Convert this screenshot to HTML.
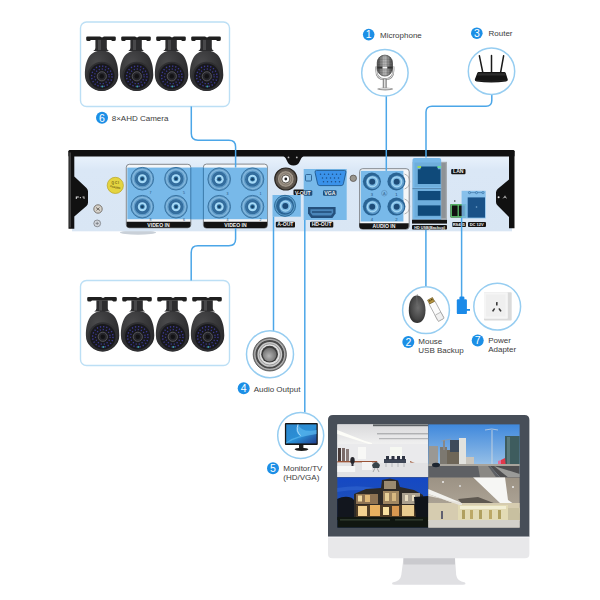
<!DOCTYPE html>
<html><head><meta charset="utf-8">
<style>
html,body{margin:0;padding:0;background:#fff;}
body{width:600px;height:600px;overflow:hidden;font-family:"Liberation Sans",sans-serif;}
svg{display:block;}
.t{font-family:"Liberation Sans",sans-serif;fill:#3c3c3c;font-size:8px;}
.bn{font-family:"Liberation Sans",sans-serif;fill:#fff;font-size:10.5px;text-anchor:middle;}
.lb{font-family:"Liberation Sans",sans-serif;fill:#f2f2f2;font-size:5.1px;font-weight:bold;text-anchor:middle;}
</style></head>
<body>
<svg width="600" height="600" viewBox="0 0 600 600">
<defs>
  <radialGradient id="camBody" cx="0.35" cy="0.3" r="0.8">
    <stop offset="0" stop-color="#4a4a4c"/><stop offset="1" stop-color="#262628"/>
  </radialGradient>
  <g id="cam">
    <path d="M-16.1,38.4 C-16.1,23.5 -11,14 0.6,14 C12.2,14 17.3,23.5 17.3,38.4 A16.7,16 0 0 1 -16.1,38.4 Z" fill="url(#camBody)"/>
    <path d="M-14.8,1 Q-14.8,0 -13.5,0 H-1 L1,1.1 L3,0 H13.5 Q14.8,0 14.8,1 V3 Q14.8,4.6 13,4.6 Q11,4.6 10,3.4 H-10 Q-11,4.6 -13,4.6 Q-14.8,4.6 -14.8,3Z" fill="#1f1f1f"/>
    <path d="M-5.6,3.3 H5.8 V11.6 Q5.8,13.6 8,14.6 H-7.8 Q-5.6,13.6 -5.6,11.6Z" fill="#2c2c2e"/>
    <rect x="-3" y="3.4" width="3" height="10.2" fill="#48484a"/>
    <circle cx="0.8" cy="39.8" r="14.6" fill="#2f2f32"/>
    <circle cx="0.8" cy="39.8" r="12.7" fill="#18181c"/>
    <circle cx="0.8" cy="39.8" r="10.2" fill="none" stroke="#3c3a92" stroke-width="1.4" stroke-dasharray="1.3 1.9"/>
    <circle cx="0.8" cy="39.8" r="7.3" fill="none" stroke="#3c3a92" stroke-width="1.3" stroke-dasharray="1.2 1.9"/>
    <circle cx="0.8" cy="39.8" r="4.6" fill="#26262b" stroke="#5a5a60" stroke-width="0.9"/>
    <circle cx="0.8" cy="39.8" r="2.2" fill="#121215"/>
    <circle cx="1.4" cy="50" r="1" fill="#3aa0a0"/>
  </g>
  <g id="bnc">
    <circle r="11.3" fill="#5f9bc8" stroke="#3a74a2" stroke-width="1"/>
    <circle r="9.4" fill="none" stroke="#85b8de" stroke-width="1.3"/>
    <circle r="7.4" fill="#30699a"/>
    <circle r="6.2" fill="none" stroke="#3d77a6" stroke-width="0.6"/>
    <circle r="4.5" fill="#a6daf7"/>
    <circle r="2.4" fill="#2c6c9c"/>
    <circle r="1.3" fill="#163e60"/>
  </g>
  <g id="rca">
    <circle r="9" fill="#2a6494"/>
    <circle cx="0.9" cy="0.7" r="6.8" fill="#5e9ccc"/>
    <circle cx="0.4" cy="0.3" r="5.6" fill="#a6d8f5"/>
    <circle cx="0.4" cy="0.3" r="4.4" fill="#7ab8e2"/>
    <circle cx="0.3" cy="0.2" r="3" fill="#1e4c78"/>
  </g>
</defs>

<!-- ============ camera boxes ============ -->
<rect x="80.5" y="22" width="149" height="84.5" rx="6" fill="none" stroke="#bcdff5" stroke-width="1.4"/>
<rect x="80.5" y="280.5" width="149" height="85" rx="6" fill="none" stroke="#bcdff5" stroke-width="1.4"/>

<g transform="translate(101,36.5)"><use href="#cam"/></g>
<g transform="translate(136,36.5)"><use href="#cam"/></g>
<g transform="translate(171,36.5)"><use href="#cam"/></g>
<g transform="translate(206,36.5)"><use href="#cam"/></g>
<g transform="translate(102,297)"><use href="#cam"/></g>
<g transform="translate(137,297)"><use href="#cam"/></g>
<g transform="translate(172,297)"><use href="#cam"/></g>
<g transform="translate(207,297)"><use href="#cam"/></g>

<!-- ============ DVR ============ -->
<g id="dvr">
  <ellipse cx="138" cy="232.5" rx="18" ry="2.2" fill="#c9d0d8"/>
    <defs><linearGradient id="pnl" x1="0" y1="0" x2="0" y2="1"><stop offset="0" stop-color="#eaf3fc"/><stop offset="0.2" stop-color="#dae7f6"/><stop offset="1" stop-color="#d9e6f4"/></linearGradient></defs>
  <rect x="72" y="155" width="440" height="76.3" fill="url(#pnl)"/>
  <!-- top black band -->
  <rect x="68.5" y="150.1" width="446" height="6.5" rx="1.2" fill="#111"/>
  
  <!-- notch -->
  <path d="M283.5,156 Q286,157.5 287.3,161.5 Q288.8,165.6 293.5,165.6 Q298.2,165.6 299.7,161.5 Q301,157.5 303.5,156 Z" fill="#111"/>
  <circle cx="288.5" cy="157.4" r="0.9" fill="#bbb"/><circle cx="296.8" cy="157.4" r="0.9" fill="#bbb"/>
  <!-- left side -->
  <path d="M68.5,151 H74.3 V176.5 L86.5,188 Q88,189.5 88,191.5 V202.5 Q88,204.5 86.5,206 L74.3,216.5 V228.7 H68.5 Z" fill="#111"/>
  <rect x="69.4" y="152.5" width="1.4" height="75" fill="#4a4a4a"/>
  <!-- right side -->
  <path d="M514.5,151 H509 V179.5 L497.6,189 Q496,190.5 496,192.5 V202 Q496,204 497.6,205.5 L509,217 V228.2 H514.5 Z" fill="#111"/>
  <path d="M75.8,196.5 h3 v1 h-2 v1.4 h-1z" fill="#e0e0e0"/><rect x="79.8" y="197" width="1.2" height="1.2" fill="#bbb"/><path d="M82.5,196.5 h2 v2.4 h-0.9 v-1.4 h-1.1z" fill="#ccc"/>
  <circle cx="498.6" cy="197.3" r="1" fill="#e8e8e8"/><path d="M503,198.5 L505,195.8 L506.5,198.5 M504,197.5 h2" stroke="#bbb" stroke-width="0.7" fill="none"/>
  <!-- QC sticker -->
  <circle cx="115.3" cy="185.4" r="8.1" fill="#e4d440" stroke="#b8a422" stroke-width="0.7"/>
  <text x="115.3" y="184.3" style="font-family:'Liberation Sans',sans-serif;font-size:3.2px;font-weight:bold;fill:#6a5a10;text-anchor:middle">Q C I</text>
  <text x="115.3" y="188.2" style="font-family:'Liberation Sans',sans-serif;font-size:2.6px;font-weight:bold;fill:#6a5a10;text-anchor:middle" transform="rotate(12 115.3 187)">PASSED</text>
  <!-- screws -->
  <circle cx="98" cy="209" r="4.2" fill="#d6d2ca" stroke="#6e6a64" stroke-width="0.9"/>
  <path d="M96,207.5 L100,210.5 M96.5,210.5 L99.5,207.5" stroke="#5a5650" stroke-width="0.8"/>
  <circle cx="97.2" cy="223.4" r="3.4" fill="#d2d6dc" stroke="#7a7e84" stroke-width="0.8"/>
  <path d="M95.6,223.4 H98.8 M97.2,221.8 V225" stroke="#6a6e74" stroke-width="0.7"/>
  <circle cx="353.3" cy="178.3" r="3.2" fill="#9a968e" stroke="#5a5650" stroke-width="0.8"/>

  <!-- video in panels -->
  <rect x="126.3" y="164.3" width="64.5" height="63.5" rx="3" fill="#f4f6f8" stroke="#6a6e74" stroke-width="0.8"/>
  <rect x="203.4" y="164.1" width="64.1" height="64" rx="3" fill="#f4f6f8" stroke="#6a6e74" stroke-width="0.8"/>
  <!-- blue highlight spanning both -->
  <rect x="127.3" y="167.6" width="140" height="51.6" fill="#78b9e9"/>
  <rect x="190.8" y="167.6" width="12.6" height="51.6" fill="#6cb2e6"/>
  <path d="M190.8,167.6V219.2 M203.4,167.6V219.2" stroke="#2d6b9a" stroke-width="0.8"/>
  <path d="M126.6,221.7 H190.5 V225 Q190.5,227.8 187.5,227.8 H129.5 Q126.6,227.8 126.6,225Z" fill="#141414"/>
  <path d="M203.7,221.7 H267.2 V225 Q267.2,228 264.2,228 H206.7 Q203.7,228 203.7,225Z" fill="#141414"/>
  <text class="lb" x="158.5" y="226.9">VIDEO IN</text>
  <text class="lb" x="235.5" y="227">VIDEO IN</text>
  <use href="#bnc" x="142.3" y="178.7"/>
  <use href="#bnc" x="176" y="178.7"/>
  <use href="#bnc" x="142.3" y="206.7"/>
  <use href="#bnc" x="176" y="206.7"/>
  <use href="#bnc" x="219.2" y="179.2"/>
  <use href="#bnc" x="252.5" y="179.2"/>
  <use href="#bnc" x="219.2" y="206.7"/>
  <use href="#bnc" x="252.5" y="206.7"/>

  <g style="font-family:'Liberation Sans',sans-serif;font-size:3.6px;fill:#24507a;text-anchor:middle">
    <text x="150.5" y="194.2">7</text><text x="184" y="194.2">5</text><text x="150.5" y="221.3">8</text><text x="184" y="221.3">6</text>
    <text x="227.5" y="194.5">3</text><text x="260.5" y="194.5">1</text><text x="227.5" y="221.3">4</text><text x="260.5" y="221.3">2</text>
  </g>
  <!-- V-OUT BNC -->
  <circle cx="285.8" cy="179" r="11" fill="#5e564e" stroke="#2a2622" stroke-width="1.2"/>
  <circle cx="285.8" cy="179" r="8.4" fill="#a0968a" stroke="#5a524a" stroke-width="1"/>
  <circle cx="285.8" cy="179" r="6" fill="none" stroke="#7a7064" stroke-width="0.8"/>
  <circle cx="285.8" cy="179" r="4" fill="#fff" stroke="#3a3630" stroke-width="0.8"/>
  <circle cx="285.8" cy="179" r="1.4" fill="#222"/>
  <rect x="293.5" y="189.6" width="12" height="5.4" rx="1" fill="#141414"/>
  
  <!-- A-OUT -->
  <rect x="272.5" y="195" width="28.3" height="21.7" fill="#78b9e9"/>
  <circle cx="285" cy="205.8" r="10.5" fill="#5f9fcc" stroke="#2c6a98" stroke-width="1"/>
  <use href="#rca" x="285" y="205.8"/>
  <rect x="275.8" y="221.7" width="19.2" height="5.8" rx="1" fill="#141414"/>
  <text class="lb" x="285.4" y="226.4">A-OUT</text>
  <!-- HD / VGA -->
  <rect x="303.7" y="169" width="43" height="51" fill="#78b9e9"/>
  <path d="M316.5,170.4 H344.5 Q346.3,170.4 345.9,172.4 L343.4,183.8 Q343,185.6 341.2,185.6 H319.8 Q318,185.6 317.6,183.8 L315.1,172.4 Q314.7,170.4 316.5,170.4Z" fill="#3a92ea" stroke="#245e96" stroke-width="1"/>
  <circle cx="320.5" cy="174.2" r="0.75" fill="#1f4f86"/><circle cx="324.5" cy="174.2" r="0.75" fill="#1f4f86"/><circle cx="328.5" cy="174.2" r="0.75" fill="#1f4f86"/><circle cx="332.5" cy="174.2" r="0.75" fill="#1f4f86"/><circle cx="336.5" cy="174.2" r="0.75" fill="#1f4f86"/><circle cx="340.5" cy="174.2" r="0.75" fill="#1f4f86"/><circle cx="322.5" cy="178" r="0.75" fill="#1f4f86"/><circle cx="326.5" cy="178" r="0.75" fill="#1f4f86"/><circle cx="330.5" cy="178" r="0.75" fill="#1f4f86"/><circle cx="334.5" cy="178" r="0.75" fill="#1f4f86"/><circle cx="338.5" cy="178" r="0.75" fill="#1f4f86"/><circle cx="323.5" cy="181.8" r="0.75" fill="#1f4f86"/><circle cx="327.5" cy="181.8" r="0.75" fill="#1f4f86"/><circle cx="331.5" cy="181.8" r="0.75" fill="#1f4f86"/><circle cx="335.5" cy="181.8" r="0.75" fill="#1f4f86"/><circle cx="339.5" cy="181.8" r="0.75" fill="#1f4f86"/>
  <rect x="305.5" y="174.5" width="6" height="6.5" rx="1" fill="none" stroke="#2a5f90" stroke-width="0.9"/>
  <rect x="303.7" y="190.3" width="8.6" height="5.4" rx="1" fill="#1e4e7a"/>
  <text class="lb" x="302.8" y="194.5">V-OUT</text>
  <rect x="323" y="190.3" width="13.6" height="5.4" rx="1.2" fill="#1e4e7a"/>
  <text class="lb" x="329.8" y="194.6">VGA</text>
  <path d="M308,207.1 H335.6 V213.6 L332.4,217.9 H311.2 L308,213.6 Z" fill="#24507c"/>
  <path d="M310.4,209.3 H333.2 V212.8 L331,215.4 H312.6 L310.4,212.8 Z" fill="#4a86ba"/>
  <rect x="312" y="211.2" width="19.6" height="1.6" fill="#24507c"/>
  <rect x="310" y="221.7" width="23.3" height="5.8" rx="1" fill="#141414"/>
  <text class="lb" x="321.6" y="226.4">HD-OUT</text>

  <!-- AUDIO IN -->
  <rect x="359.6" y="168.7" width="49.6" height="60.6" rx="3" fill="#f4f6f8" stroke="#6a6e74" stroke-width="0.8"/>
  <rect x="360.7" y="170.8" width="42.7" height="50.7" fill="#78b9e9"/>
  <path d="M359.3,223.3 H408.7 V226 Q408.7,229 405.7,229 H362.3 Q359.3,229 359.3,226Z" fill="#141414"/>
  <text class="lb" x="384" y="228">AUDIO IN</text>
  <path d="M404.5,174 A8,8 0 0 1 404.5,189 M404.5,199 A8,8 0 0 1 404.5,214" fill="none" stroke="#9a9a9a" stroke-width="0.8"/>
  <use href="#rca" x="371.9" y="181.5"/>
  <use href="#rca" x="396.4" y="181.5"/>
  <use href="#rca" x="371.9" y="206.6"/>
  <use href="#rca" x="396.4" y="206.6"/>
  <g style="font-family:'Liberation Sans',sans-serif;font-size:4.2px;fill:#1e4c78;text-anchor:middle">
    <text x="371.9" y="195.5">3</text><text x="396.4" y="195.5">1</text>
    <text x="371.9" y="221">4</text><text x="396.4" y="221">2</text>
  </g>
  <circle cx="384.3" cy="193.2" r="2.8" fill="none" stroke="#5a8ab4" stroke-width="0.6"/>
  <text x="384.3" y="194.7" style="font-family:'Liberation Sans',sans-serif;font-size:4px;fill:#3a6a94;text-anchor:middle">A</text>

  <!-- LAN / USB -->
  <rect x="412.5" y="161.8" width="34.5" height="57.4" fill="#a6aaae"/>
  <rect x="441.2" y="163" width="4.5" height="55" fill="#8e9296"/>
  <path d="M412.5,160 Q412.5,157.9 414.5,157.9 H439.2 Q441.2,157.9 441.2,160 V219.7 H412.5Z" fill="#78b9e9"/>
  <rect x="414.5" y="162.5" width="26.5" height="24.5" fill="#6eaedc"/>
  <path d="M420.5,166.4 H437.8 V169.2 H440.5 V183.9 H417.8 V169.2 H420.5Z" fill="#0f4a7a"/>
  <rect x="417.5" y="166" width="3.6" height="2" fill="#9ad85a"/>
  <rect x="437.4" y="166" width="3.6" height="2" fill="#6ad8a0"/>
  <rect x="412.5" y="188" width="28.7" height="1.2" fill="#5a8cb4"/>
  <rect x="414.5" y="189.5" width="26.5" height="28" fill="#6eaedc"/>
  <rect x="417.8" y="191" width="22.7" height="9.2" fill="#0f4a7a"/>
  <rect x="417.8" y="205.4" width="22.7" height="10.4" fill="#0f4a7a"/>
  <rect x="412" y="219.7" width="35" height="3.9" fill="#141414"/>
  <rect x="412" y="224.9" width="35" height="4.6" rx="1" fill="#141414"/>
  <text class="lb" x="429.6" y="228.6" style="font-size:3.8px">HD USB(Backup)</text>
  <rect x="451.2" y="169" width="14.3" height="5.2" rx="1" fill="#141414"/>
  <text class="lb" x="458.3" y="173.3">LAN</text>

  <!-- RS485 / DC12V -->
  <rect x="450.4" y="204" width="15.8" height="13.6" rx="0.8" fill="#111"/>
  <rect x="451.2" y="204.8" width="14.2" height="12" fill="none" stroke="#62cc74" stroke-width="1.3"/>
  <rect x="457.6" y="205" width="1.2" height="11.6" fill="#62cc74"/>
  <circle cx="454.8" cy="201" r="0.7" fill="#222"/>
  <rect x="461.6" y="190.8" width="24.1" height="27.6" fill="#78b9e9" opacity="0.85"/>
  <rect x="467.7" y="197.4" width="17.3" height="20.2" fill="#1a5288"/>
  <circle cx="476.5" cy="207" r="0.8" fill="#7aa8d0"/>
  <path d="M468.5,192.6 H484" stroke="#2a5f90" stroke-width="0.5"/>
  <circle cx="469.5" cy="192.6" r="1.1" fill="#78b9e9" stroke="#2a5f90" stroke-width="0.5"/>
  <circle cx="476.5" cy="192.6" r="1.1" fill="#78b9e9" stroke="#2a5f90" stroke-width="0.5"/>
  <circle cx="483" cy="192.6" r="1.1" fill="#78b9e9" stroke="#2a5f90" stroke-width="0.5"/>
  <rect x="452.2" y="222" width="13.8" height="4.9" rx="1" fill="#141414"/>
  <text class="lb" x="458.8" y="226.3" style="font-size:4px">RS485</text>
  <rect x="468" y="222" width="18" height="4.9" rx="1" fill="#141414"/>
  <text class="lb" x="476.7" y="226.3" style="font-size:4px">DC 12V</text>
</g>

<!-- ============ connection lines ============ -->
<g fill="none" stroke="#4ba6e8" stroke-width="1.5">
  <path d="M191.3,106.5 V133.5 Q191.3,140.2 198,140.2 H228.9 Q235.6,140.2 235.6,146.9 V167.6"/>
  <path d="M235.6,228 V239 Q235.6,245.7 228.9,245.7 H197.9 Q191.2,245.7 191.2,252.4 V280.5"/>
  <path d="M273.5,216.7 V331"/>
  <path d="M304.8,220 V412.5"/>
  <path d="M386.3,96 V170.8"/>
  <path d="M491.8,94.2 V100.5 Q491.8,106.2 486,106.2 H432 Q426,106.2 426,112 V157.5"/>
  <path d="M425.9,229.7 V287"/>
  <path d="M461.6,217.7 V298"/>
</g>
<!-- ============ icon circles ============ -->
<g fill="#fff" stroke="#96cdf1" stroke-width="1.5">
  <circle cx="384.9" cy="72.8" r="23.2"/>
  <circle cx="491.5" cy="71.2" r="23.2"/>
  <circle cx="426" cy="310.2" r="23.4"/>
  <circle cx="497.2" cy="306.6" r="23.4"/>
  <circle cx="270" cy="354.2" r="23.5"/>
  <circle cx="300.7" cy="435.5" r="23"/>
</g>

<!-- microphone -->
<defs>
  <linearGradient id="micG" x1="0" y1="0" x2="1" y2="0"><stop offset="0" stop-color="#4e4e4e"/><stop offset="0.5" stop-color="#cdcdcd"/><stop offset="1" stop-color="#4e4e4e"/></linearGradient>
  <linearGradient id="stemG" x1="0" y1="0" x2="1" y2="0"><stop offset="0" stop-color="#777"/><stop offset="0.5" stop-color="#eee"/><stop offset="1" stop-color="#777"/></linearGradient>
  <pattern id="mesh" width="1.6" height="1.6" patternUnits="userSpaceOnUse"><rect width="1.6" height="1.6" fill="none"/><rect width="0.6" height="1.6" fill="#000" opacity="0.18"/><rect width="1.6" height="0.6" fill="#000" opacity="0.18"/></pattern>
</defs>
<g>
  <path d="M376.3,66.5 V70 Q376.3,79.3 384.8,79.3 Q393.4,79.3 393.4,70 V66.5" fill="none" stroke="#8a8a8a" stroke-width="2"/>
  <path d="M376.3,66.5 V70 Q376.3,79.3 384.8,79.3 Q393.4,79.3 393.4,70 V66.5" fill="none" stroke="#e6e6e6" stroke-width="0.9"/>
  <rect x="377.2" y="55.1" width="15.3" height="21" rx="7.6" fill="url(#micG)"/>
  <rect x="377.2" y="55.1" width="15.3" height="21" rx="7.6" fill="url(#mesh)" stroke="#333" stroke-width="0.6"/>
  <rect x="377.3" y="66.6" width="15.1" height="2" fill="#333"/>
  <rect x="382.5" y="66.6" width="4.8" height="2" fill="#f4f4f4"/>
  <rect x="383" y="79" width="3.4" height="9.6" fill="url(#stemG)" stroke="#666" stroke-width="0.4"/>
  <ellipse cx="385.2" cy="89" rx="8" ry="1.4" fill="#9a9a9a"/>
  <ellipse cx="385.2" cy="88.6" rx="6" ry="0.7" fill="#d6d6d6"/>
</g>
<!-- router -->
<g>
  <path d="M479.4,55.8 L482.8,72.5 M491.5,55.5 V72.5 M503.6,55.8 L500.6,72.5" stroke="#1a1a1a" stroke-width="1.5" stroke-linecap="round"/>
  <path d="M478.5,72 H504.5 Q505.3,72 505.7,73 L507.8,79.6 Q508.1,81.2 506,81.4 Q491.3,83.6 476.6,81.4 Q474.5,81.2 474.8,79.6 L477.3,73 Q477.7,72 478.5,72Z" fill="#141414"/>
  <path d="M478,73.2 H505 L505.7,75.4 H477.2Z" fill="#2c2c2c"/>
  <path d="M476,80.3 Q491.3,82.2 506.6,80.3" stroke="#2e2e2e" stroke-width="0.6" fill="none"/>
</g>
<!-- mouse & usb -->
<defs>
  <radialGradient id="mouseG" cx="0.55" cy="0.45" r="0.6"><stop offset="0" stop-color="#6e6e6e"/><stop offset="0.7" stop-color="#464646"/><stop offset="1" stop-color="#2a2a2a"/></radialGradient>
</defs>
<g>
  <path d="M417.3,294 V296" stroke="#888" stroke-width="0.6"/>
  <path d="M416.8,295.4 C421.8,295.4 425.5,301.5 425.5,310.2 C425.5,318.6 421.6,322.9 417.2,322.9 C412.6,322.9 408.8,318.6 408.8,310.2 C408.8,301.5 411.8,295.4 416.8,295.4Z" fill="url(#mouseG)"/>
  <path d="M416.6,296 Q417.2,301 417,305" stroke="#777" stroke-width="0.5" fill="none"/>
  <g transform="rotate(-28 436.5 311)">
    <rect x="433.2" y="301" width="6.6" height="20" rx="1" fill="#fbfbfb" stroke="#8a8a8a" stroke-width="0.6"/>
    <rect x="433.2" y="314" width="6.6" height="7" rx="1" fill="#f0f0f0" stroke="#8a8a8a" stroke-width="0.5"/>
    <rect x="433.7" y="297.2" width="5.6" height="4.4" fill="#b89640" stroke="#5a4818" stroke-width="0.5"/>
    <rect x="434.8" y="298.2" width="1.3" height="1.3" fill="#3a2e10"/><rect x="437" y="298.2" width="1.3" height="1.3" fill="#3a2e10"/>
  </g>
</g>
<!-- power -->
<g>
  <rect x="484" y="292.3" width="27.7" height="28.2" rx="0.8" fill="#dadada"/>
  <rect x="484" y="292.3" width="23.8" height="26.4" rx="0.6" fill="#f5f5f5"/>
  <rect x="486" y="294.5" width="19.5" height="22" fill="#efefef"/>
  <rect x="496" y="302" width="1.6" height="3.4" rx="0.5" fill="#3a3a3a"/>
  <rect x="492.8" y="308.1" width="1.6" height="3.6" rx="0.5" fill="#3a3a3a" transform="rotate(35 493.6 309.9)"/>
  <rect x="499.2" y="308.1" width="1.6" height="3.6" rx="0.5" fill="#3a3a3a" transform="rotate(-35 500 309.9)"/>
  <rect x="456.8" y="299.2" width="10.1" height="14.9" rx="1.2" fill="#1b8ae8"/>
  <rect x="459.4" y="296.6" width="5" height="3.4" rx="1.2" fill="#1b8ae8"/>
  <rect x="466" y="309" width="4" height="1.8" fill="#1b8ae8"/>
</g>
<!-- audio jack -->
<defs>
  <radialGradient id="jk1" cx="0.5" cy="0.5" r="0.5"><stop offset="0.6" stop-color="#8c8c8c"/><stop offset="0.85" stop-color="#d4d4d4"/><stop offset="1" stop-color="#6a6a6a"/></radialGradient>
  <radialGradient id="jk2" cx="0.45" cy="0.6" r="0.6"><stop offset="0" stop-color="#b4b4b4"/><stop offset="1" stop-color="#6a6a6a"/></radialGradient>
</defs>
<g>
  <circle cx="269.8" cy="354.4" r="16.6" fill="url(#jk1)" stroke="#4e4e4e" stroke-width="0.8"/>
  <circle cx="269.8" cy="354.4" r="13.4" fill="#c8c8c8" stroke="#4a4a4a" stroke-width="2"/>
  <circle cx="269.8" cy="354.4" r="10.6" fill="#e0e0e0" stroke="#8a8a8a" stroke-width="0.8"/>
  <circle cx="269.6" cy="354.2" r="8.4" fill="#3c3c3c"/>
  <circle cx="269.6" cy="354.6" r="6.8" fill="url(#jk2)"/>
</g>
<!-- small monitor icon -->
<defs>
  <linearGradient id="smScr" x1="0" y1="0" x2="1" y2="1"><stop offset="0" stop-color="#2a86cc"/><stop offset="0.55" stop-color="#2b8fd6"/><stop offset="1" stop-color="#1f3f8e"/></linearGradient>
</defs>
<g>
  <rect x="284.9" y="422.9" width="32.9" height="22.1" rx="1" fill="#161616"/>
  <rect x="286.2" y="424.4" width="30.3" height="19" fill="url(#smScr)"/>
  <path d="M298,424.4 Q294,432 300,436 Q292,438 286.2,442.5 V443.4 Q296,437 316.5,434 V430 Q302,433 298,424.4Z" fill="#58b6ee" opacity="0.75"/>
  <path d="M298,424.4 Q295.5,431 300.5,435.5" stroke="#cfeaff" stroke-width="0.8" fill="none"/>
  <rect x="299" y="445" width="4.4" height="3" fill="#222"/>
  <ellipse cx="301.5" cy="449.3" rx="6.9" ry="1.6" fill="#1a1a1a"/>
</g>

<!-- ============ big monitor ============ -->
<g>
  <path d="M403.5,558 H455 L456.2,575 Q457,581.2 465,582.6 Q466.5,584.8 463,584.8 H394.5 Q391,584.8 392.5,582.6 Q400.5,581.2 401.3,575 Z" fill="#e0e0e3"/>
  <rect x="403.5" y="558" width="51.5" height="6.5" fill="#cacace"/>
  
  <path d="M328,536 H529.4 V554 Q529.4,558.3 525.1,558.3 H332.3 Q328,558.3 328,554Z" fill="#e8e8ea"/>
  <path d="M333,415 H524.5 Q529.4,415 529.4,420 V536.7 H328 V420 Q328,415 333,415Z" fill="#474e58"/>
  <rect x="328" y="536.7" width="201.4" height="0.9" fill="#f6f6f8"/>
  <defs>
    <clipPath id="q1"><rect x="337.2" y="424.2" width="91" height="53"/></clipPath>
    <clipPath id="q2"><rect x="428.2" y="424.2" width="91.6" height="53"/></clipPath>
    <clipPath id="q3"><rect x="337.2" y="477.2" width="91" height="50.6"/></clipPath>
    <clipPath id="q4"><rect x="428.2" y="477.2" width="91.6" height="50.6"/></clipPath>
    <linearGradient id="sky2" x1="0" y1="0" x2="0" y2="1"><stop offset="0" stop-color="#3f88dc"/><stop offset="0.7" stop-color="#8fbbe6"/><stop offset="1" stop-color="#c4d8ec"/></linearGradient>
    <linearGradient id="sky3" x1="0" y1="0" x2="0" y2="1"><stop offset="0" stop-color="#1548c4"/><stop offset="0.5" stop-color="#1d4fb8"/><stop offset="1" stop-color="#1a2f6a"/></linearGradient>
    <linearGradient id="ceil1" x1="0" y1="0" x2="0" y2="1"><stop offset="0" stop-color="#d9d9db"/><stop offset="1" stop-color="#f0f0f0"/></linearGradient>
    <linearGradient id="ceil4" x1="0" y1="0" x2="0" y2="1"><stop offset="0" stop-color="#9c9284"/><stop offset="1" stop-color="#b8b0a2"/></linearGradient>
  </defs>
  <!-- quadrant 1 office -->
  <g clip-path="url(#q1)">
    <rect x="337.2" y="424.2" width="91" height="53" fill="#f0f0f0"/>
    <rect x="337.2" y="424.2" width="91" height="20" fill="url(#ceil1)"/>
    <path d="M337.2,430 L365,441 L372,443 L372,445 L337.2,434 Z" fill="#fdfdf8"/>
    <rect x="373" y="424.2" width="56" height="2" fill="#5c6064"/>
    <rect x="377" y="433.3" width="52" height="1" fill="#9a9c9e"/>
    <rect x="379" y="438.2" width="50" height="1" fill="#a8aaac"/>
    <rect x="337.2" y="444" width="91" height="18" fill="#eaeaec"/>
    <rect x="390" y="447" width="12" height="10" fill="#f6f8f2"/>
    <rect x="358" y="447" width="8" height="12" fill="#f8f8f6"/>
    <rect x="338" y="448" width="3" height="14" fill="#4a3c3a"/>
    <rect x="342" y="448" width="3" height="14" fill="#7a6a68"/>
    <rect x="346" y="449" width="3" height="12" fill="#8a7c7a"/>
    <rect x="337.2" y="461" width="40" height="1.6" fill="#9a5438"/>
    <path d="M410,461 L428.2,468.5 V470 L410,462.5 Z" fill="#a05a3a"/>
    <rect x="337.2" y="462.6" width="91" height="14.6" fill="#e2e2e4"/>
    <ellipse cx="352.5" cy="460.5" rx="2.2" ry="3.4" fill="#26262c"/>
    <rect x="351.5" y="463" width="2" height="6" fill="#30303a"/>
    <path d="M384,459 h22 v4 h-22z" fill="#3e4656"/>
    <rect x="386" y="456" width="3" height="4" fill="#2e3442"/><rect x="391.5" y="456" width="3" height="4" fill="#2e3442"/><rect x="397" y="456" width="3" height="4" fill="#2e3442"/><rect x="402" y="456" width="3" height="4" fill="#2e3442"/>
    <path d="M386,463 v4 M392,463 v4 M398,463 v4 M404,463 v4" stroke="#8a8e96" stroke-width="0.5"/>
    <path d="M372,465 q4,-6 8,0 l-1,3 h-6 z" fill="#38444a"/>
    <path d="M375,468 l-2,4 M377,468 l2,4" stroke="#666" stroke-width="0.5"/>
    <rect x="362" y="462" width="10" height="8" fill="#f4f4f4"/>
    <rect x="337.2" y="466" width="18" height="6" fill="#f6f6f6"/>
  </g>
  <!-- quadrant 2 street -->
  <g clip-path="url(#q2)">
    <rect x="428.2" y="424.2" width="91.6" height="53" fill="url(#sky2)"/>
    <rect x="429" y="446" width="9" height="18" fill="#9a9894"/>
    <rect x="440" y="447" width="7" height="17" fill="#7c7870"/>
    <rect x="447" y="450" width="16" height="14" fill="#6e6658"/>
    <rect x="450" y="440" width="10" height="12" fill="#3e4a5a"/>
    <rect x="459" y="438" width="7" height="26" fill="#e2e2de"/>
    <rect x="443" y="440" width="2" height="10" fill="#888"/>
    <path d="M441,441 L451,439" stroke="#999" stroke-width="0.6"/>
    <rect x="466" y="457" width="8" height="7" fill="#c8c4bc"/>
    <rect x="505" y="436" width="14.8" height="30" fill="#3e5c5e"/>
    <rect x="507" y="437" width="3" height="28" fill="#5a7a7c"/>
    <path d="M492,430 V466" stroke="#d6dade" stroke-width="0.8"/>
    <path d="M485,430 Q492,428 498,430" stroke="#d6dade" stroke-width="0.7" fill="none"/>
    <path d="M501,460 L505,458 L506,468 L501,467 Z" fill="#e0384a"/>
    <path d="M498,461 L501,460 L501,467 L498,466 Z" fill="#e070a0"/>
    <rect x="428.2" y="464" width="91.6" height="2.5" fill="#a8a49c"/>
    <path d="M428.2,466 H490 L500,477.2 H428.2 Z" fill="#5e6064"/>
    <path d="M478,466 H488 L496,477.2 H480 Z" fill="#8a8884"/>
    <path d="M490,466 H519.8 V477.2 H500 Z" fill="#4e4e50"/>
    <path d="M494,466 L519.8,474 V477.2 L508,477.2 Z" fill="#9a9a98"/>
    <ellipse cx="436" cy="465" rx="4" ry="2.2" fill="#1e2630"/>
  </g>
  <!-- quadrant 3 house -->
  <g clip-path="url(#q3)">
    <rect x="337.2" y="477.2" width="91" height="50.6" fill="url(#sky3)"/>
    <path d="M337,488 Q360,484 380,489 L380,492 Q360,488 337,492Z" fill="#3266d0" opacity="0.6"/>
    <path d="M337,499 Q345,495 352,498 L356,502 L356,520 L337,520Z" fill="#12161e"/>
    <path d="M354,494 L366,489 L381,488 L382,480 L390,478.5 L398,480.5 L400,487 L414,490 L423,495 L424,518 L354,518Z" fill="#2e2a26"/>
    <rect x="356" y="494" width="22" height="10" fill="#8e7252"/>
    <rect x="358" y="495.5" width="4" height="6" fill="#f0d8a0"/>
    <rect x="365" y="495" width="5" height="7" fill="#e0b878"/>
    <rect x="383" y="491" width="16" height="13" fill="#a08660"/>
    <rect x="385" y="493" width="4" height="8" fill="#e8d098"/><rect x="392" y="493" width="4" height="8" fill="#d8b880"/>
    <rect x="402" y="493" width="18" height="11" fill="#aaa08e"/>
    <rect x="405" y="495" width="3" height="6" fill="#e8dcc0"/><rect x="412" y="495" width="3" height="6" fill="#e8dcc0"/>
    <rect x="384" y="481" width="12" height="8" fill="#9a8a70"/>
    <rect x="356" y="505" width="66" height="12" fill="#4e3c26"/>
    <rect x="358" y="506" width="9" height="10" fill="#f2d090"/>
    <rect x="370" y="505" width="10" height="11" fill="#e8b060"/>
    <rect x="383" y="507" width="6" height="8" fill="#f8e0a0"/>
    <rect x="392" y="506" width="7" height="10" fill="#d89850"/>
    <rect x="402" y="505" width="12" height="11" fill="#e8cc90"/>
    <path d="M414,497 L428.2,496 V520 L416,520Z" fill="#10141a"/>
    <rect x="337.2" y="517" width="91" height="10.8" fill="#101610"/>
    <rect x="340" y="519.5" width="50" height="0.8" fill="#4a5a48"/>
    <rect x="395" y="519.5" width="28" height="0.8" fill="#4a5a48"/>
  </g>
  <!-- quadrant 4 mall -->
  <g clip-path="url(#q4)">
    <rect x="428.2" y="477.2" width="91.6" height="50.6" fill="url(#ceil4)"/>
    <path d="M473,477.2 H505 L508,500 L519.8,508 V514 L500,503 Z" fill="#f6f6f4"/>
    <path d="M428.2,489 L462,503 L462,506 L428.2,494 Z" fill="#f2f2ee"/>
    <path d="M458,499 L478,497 L519.8,513 V520 L500,512 L462,504 Z" fill="#5e5850"/>
    <rect x="428.2" y="503" width="91.6" height="18" fill="#d6ccb0"/>
    <path d="M428.2,494 L462,506 L462,503 L428.2,496Z" fill="#e6e2da"/>
    <rect x="458" y="505" width="50" height="15" fill="#e2dab4"/>
    <rect x="460" y="506" width="46" height="3" fill="#f2eed4"/>
    <rect x="462" y="510" width="3" height="9" fill="#b0a060"/><rect x="470" y="510" width="3" height="9" fill="#bca866"/><rect x="479" y="510" width="3" height="9" fill="#b0a060"/><rect x="489" y="510" width="3" height="9" fill="#bca866"/><rect x="498" y="510" width="3" height="9" fill="#b0a060"/>
    <rect x="508" y="508" width="12" height="12" fill="#c8c0a0"/>
    <rect x="428.2" y="520" width="91.6" height="7.8" fill="#d2d0ca"/>
    <rect x="441" y="511" width="2" height="8" fill="#606070"/>
    <circle cx="443" cy="482" r="1" fill="#eee"/><circle cx="460" cy="486" r="1" fill="#ddd"/><circle cx="513" cy="487" r="1" fill="#eee"/>
  </g>
</g>

<!-- ============ labels ============ -->
<circle cx="368.7" cy="34.6" r="5.8" fill="#1c8fe6"/><text class="bn" x="368.7" y="38.4">1</text>
<text class="t" x="380" y="37.7">Microphone</text>
<circle cx="476.8" cy="33.2" r="5.8" fill="#1c8fe6"/><text class="bn" x="476.8" y="37.0">3</text>
<text class="t" x="488.5" y="35.7">Router</text>
<circle cx="102" cy="117.7" r="6" fill="#1c8fe6"/><text class="bn" x="102" y="121.5">6</text>
<text class="t" x="111.7" y="121.1">8×AHD Camera</text>
<circle cx="408.3" cy="342" r="6" fill="#1c8fe6"/><text class="bn" x="408.3" y="345.8">2</text>
<text class="t" x="418.3" y="344">Mouse</text>
<text class="t" x="418.3" y="353">USB Backup</text>
<circle cx="477.7" cy="340.5" r="6" fill="#1c8fe6"/><text class="bn" x="477.7" y="344.3">7</text>
<text class="t" x="488.2" y="343.2">Power</text>
<text class="t" x="488.2" y="352.2">Adapter</text>
<circle cx="243.7" cy="388.3" r="6" fill="#1c8fe6"/><text class="bn" x="243.7" y="392.1">4</text>
<text class="t" x="253.7" y="391.7">Audio Output</text>
<circle cx="273" cy="468.3" r="6" fill="#1c8fe6"/><text class="bn" x="273" y="472.1">5</text>
<text class="t" x="283.3" y="470.6">Monitor/TV</text>
<text class="t" x="283.3" y="479.8">(HD/VGA)</text>
</svg>
</body></html>
